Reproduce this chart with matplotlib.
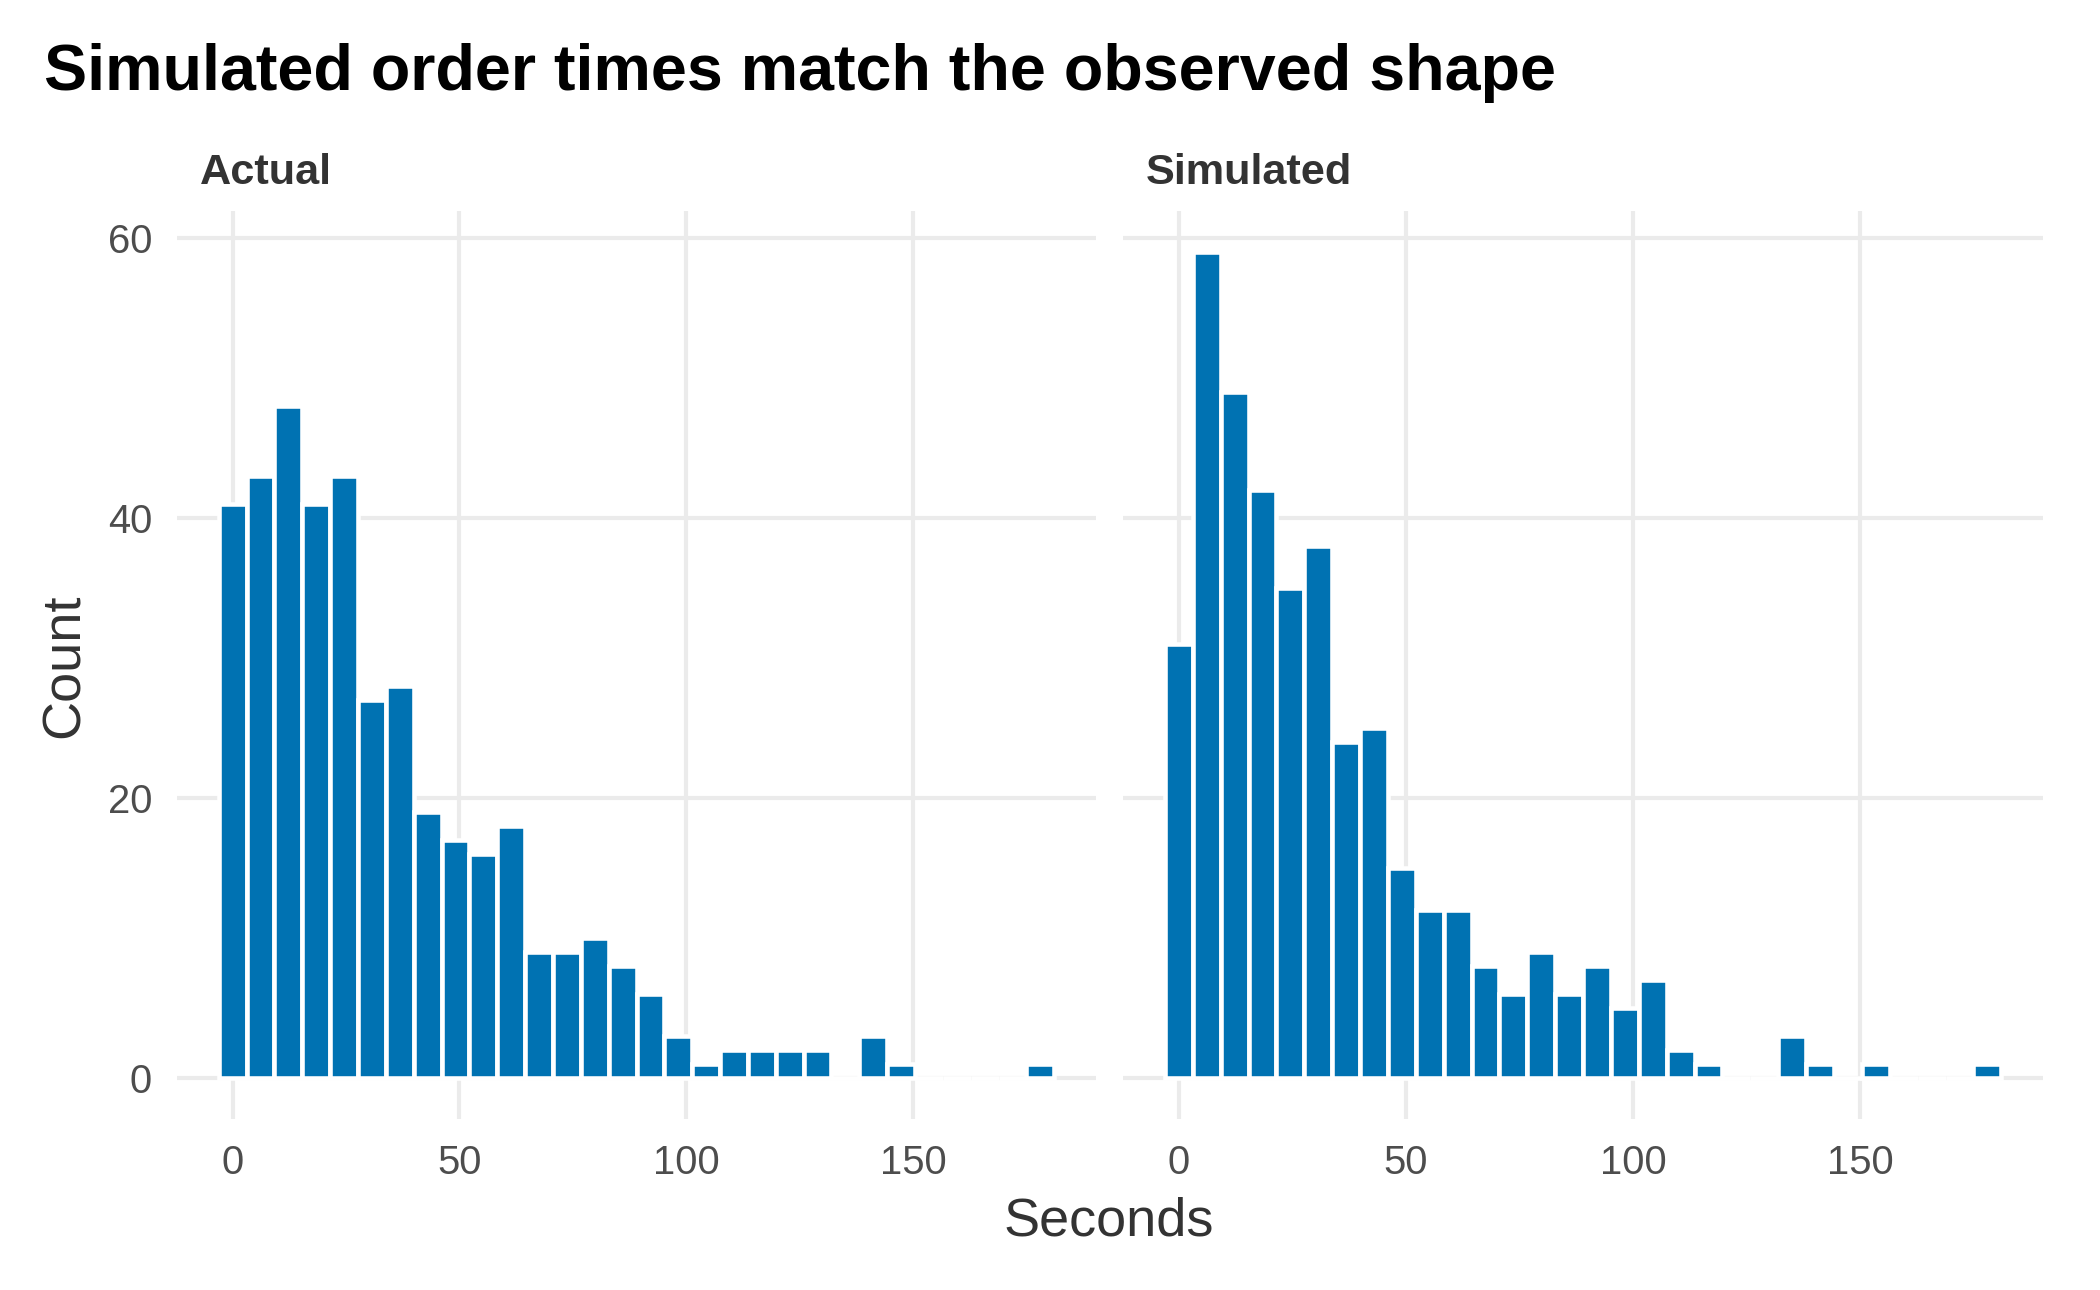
import numpy as np
import matplotlib
matplotlib.use("Agg")
import matplotlib.pyplot as plt

plt.rcParams["font.family"] = ["Liberation Sans", "DejaVu Sans"]

# histogram counts (30 bins, first bin centred on 0)
bin_width = 6.14
actual_counts = [41, 43, 48, 41, 43, 27, 28, 19, 17, 16, 18, 9, 9, 10, 8,
                 6, 3, 1, 2, 2, 2, 2, 0, 3, 1, 0, 0, 0, 0, 1]
simulated_counts = [31, 59, 49, 42, 35, 38, 24, 25, 15, 12, 12, 8, 6, 9, 6,
                    8, 5, 7, 2, 1, 0, 0, 3, 1, 0, 1, 0, 0, 0, 1]
panel_names = ["Actual", "Simulated"]
x_ticks = [0, 50, 100, 150]
y_ticks = [0, 20, 40, 60]

bar_col = "#0072B2"
grid_col = "#EBEBEB"

fig = plt.figure(figsize=(7, 4.3), dpi=300)

bottom = 0.1326
top = 0.8364
panels = [(0.0843, 0.5219), (0.5348, 0.9729)]

for i, (name, counts) in enumerate(zip(panel_names, [actual_counts, simulated_counts])):
    left, right = panels[i]
    ax = fig.add_axes([left, bottom, right - left, top - bottom])
    centers = np.arange(len(counts)) * bin_width
    ax.bar(centers, counts, width=bin_width, color=bar_col,
           edgecolor="white", linewidth=1.1, zorder=2)
    lo = centers[0] - bin_width / 2
    hi = centers[-1] + bin_width / 2
    pad = (hi - lo) * 0.05
    ax.set_xlim(lo - pad, hi + pad)
    ymax = max(max(actual_counts), max(simulated_counts))
    ax.set_ylim(-ymax * 0.05, ymax * 1.05)
    ax.set_xticks(x_ticks)
    ax.set_yticks(y_ticks)
    ax.grid(True, color=grid_col, linewidth=1.0, zorder=0)
    ax.set_axisbelow(True)
    for s in ax.spines.values():
        s.set_visible(False)
    ax.tick_params(length=0, labelsize=9.6, labelcolor="#4D4D4D", pad=6)
    if i > 0:
        ax.tick_params(labelleft=False)
    # strip label
    ax.text(0.025, 1.02, name, transform=ax.transAxes,
            fontsize=10.4, fontweight="bold", color="#333333",
            ha="left", va="bottom")

fig.text(0.031, 0.484, "Count", rotation=90, fontsize=13, color="#333333",
         ha="center", va="center")
fig.text(0.528, 0.034, "Seconds", fontsize=13, color="#333333",
         ha="center", va="bottom")
fig.text(0.021, 0.93, "Simulated order times match the observed shape",
         fontsize=15.5, fontweight="bold", color="black", ha="left", va="baseline")

fig.savefig("out.png", dpi=300, facecolor="white")
